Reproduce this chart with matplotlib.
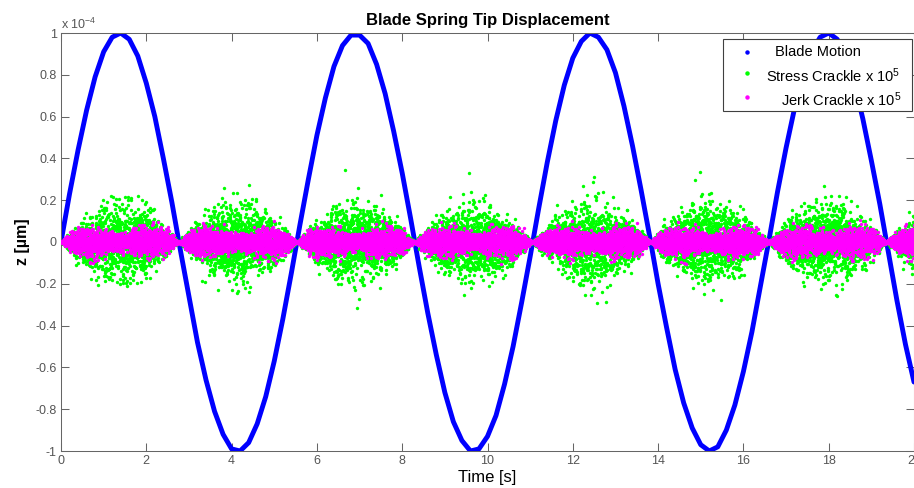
import numpy as np
import matplotlib
matplotlib.use('Agg')
import matplotlib.pyplot as plt
from matplotlib.patches import Rectangle
from matplotlib.lines import Line2D

plt.rcParams['font.family'] = ['Liberation Sans', 'DejaVu Sans']
plt.rcParams['mathtext.fontset'] = 'custom'
plt.rcParams['mathtext.rm'] = 'Liberation Sans'
plt.rcParams['mathtext.it'] = 'Liberation Sans:italic'

# ---------------- data ----------------

# blade tip motion, sampled every 0.2 s from t = 0 (values in units of 1e-4 um)
blade_dt = 0.2
blade_z = [0.00, 0.23, 0.44, 0.63, 0.79, 0.91, 0.98, 1.00, 0.97, 0.89,
           0.76, 0.60, 0.40, 0.19, -0.04, -0.26, -0.48, -0.66, -0.81, -0.92,
           -0.99, -1.00, -0.96, -0.87, -0.74, -0.57, -0.37, -0.15, 0.08, 0.30,
           0.51, 0.69, 0.84, 0.94, 0.99, 0.99, 0.95, 0.85, 0.71, 0.53,
           0.33, 0.11, -0.12, -0.34, -0.54, -0.72, -0.86, -0.95, -1.00, -0.99,
           -0.93, -0.83, -0.68, -0.50, -0.29, -0.07, 0.16, 0.38, 0.58, 0.75,
           0.88, 0.96, 1.00, 0.98, 0.92, 0.81, 0.65, 0.46, 0.25, 0.03,
           -0.20, -0.41, -0.61, -0.77, -0.89, -0.97, -1.00, -0.98, -0.90, -0.78,
           -0.62, -0.43, -0.21, 0.01, 0.24, 0.45, 0.64, 0.80, 0.91, 0.98,
           1.00, 0.97, 0.88, 0.76, 0.59, 0.39, 0.18, -0.05, -0.28, -0.49,
           -0.67]

# crackle clouds: spread (1 sigma, units of 1e-4) across each half cycle
half_period = 2.765                       # time between blade zero crossings [s]
crackle_phase = [0.0, 0.1, 0.2, 0.3, 0.4, 0.5, 0.6, 0.7, 0.8, 0.9, 1.0]
stress_spread = [0.0, 0.027, 0.052, 0.072, 0.085, 0.09, 0.085, 0.072, 0.052, 0.027, 0.0]
jerk_spread = [0.0, 0.024, 0.033, 0.032, 0.025, 0.018, 0.025, 0.032, 0.033, 0.024, 0.0]
n_samples = 14000

xtick_vals = [0, 2, 4, 6, 8, 10, 12, 14, 16, 18, 20]
ytick_vals = [-1, -0.8, -0.6, -0.4, -0.2, 0, 0.2, 0.4, 0.6, 0.8, 1]
ytick_labels = ['-1', '-0.8', '-0.6', '-0.4', '-0.2', '0', '0.2', '0.4', '0.6', '0.8', '1']

legend_labels = ['Blade Motion', 'Stress Crackle x 10$^5$', 'Jerk Crackle x 10$^5$']
colors = ['#0000ff', '#00ff00', '#ff00ff']

# ---------------- build series ----------------

t_blade = blade_dt * np.arange(len(blade_z))

t = np.linspace(0, 20, n_samples)
phase = (t / half_period) % 1.0
rng = np.random.default_rng(7)
stress = np.interp(phase, crackle_phase, stress_spread) * rng.standard_normal(n_samples)
jerk = np.interp(phase, crackle_phase, jerk_spread) * rng.standard_normal(n_samples)

# ---------------- figure ----------------

W, H = 914, 488
fig = plt.figure(figsize=(W / 100, H / 100), dpi=100)
ax = fig.add_axes([61 / W, 37 / H, 853 / W, 418 / H])

ax.plot(t_blade, blade_z, color=colors[0], lw=3.5, solid_capstyle='round', zorder=2)
ax.scatter(t, stress, s=6, color=colors[1], linewidths=0, zorder=3)
ax.scatter(t, jerk, s=6, color=colors[2], linewidths=0, zorder=4)

ax.set_xlim(0, 20)
ax.set_ylim(-1, 1)
ax.set_xticks(xtick_vals)
ax.set_yticks(ytick_vals)
ax.set_yticklabels(ytick_labels)
ax.tick_params(direction='in', top=True, right=True, length=6, width=0.75,
               color='#666666', labelcolor='#555555', labelsize=9, pad=3)
for sp in ax.spines.values():
    sp.set_color('#666666')
    sp.set_linewidth(0.75)

ax.set_title('Blade Spring Tip Displacement', fontsize=12, fontweight='bold', pad=6)
ax.set_xlabel('Time [s]', fontsize=12, labelpad=2)
ax.set_ylabel('z [\u00b5m]', fontsize=11.5, fontweight='bold', labelpad=4)

# MATLAB style exponent above the y axis
fig.text(61 / W, 1 - 29 / H, 'x 10$^{-4}$', fontsize=9, color='#555555', va='baseline')

# legend box drawn in figure pixels
def fpos(x, y):
    return x / W, 1 - y / H

x0, y0 = fpos(723, 111)
fig.patches.append(Rectangle((x0, y0), (912 - 723) / W, (111 - 39) / H,
                             transform=fig.transFigure, facecolor='white',
                             edgecolor='#404040', lw=0.8, zorder=5))
marker_y = [52, 73, 97]
text_x = [775, 766, 781]
text_y = [52, 76, 100]
for lab, c, my, tx, ty in zip(legend_labels, colors, marker_y, text_x, text_y):
    mx, myf = fpos(747, my)
    fig.add_artist(Line2D([mx], [myf], marker='o', markersize=2.2, color=c,
                          linestyle='none', transform=fig.transFigure, zorder=6))
    fig.text(*fpos(tx, ty), lab, fontsize=10.5, va='center', ha='left', zorder=6)

fig.savefig('out.png', dpi=100)
